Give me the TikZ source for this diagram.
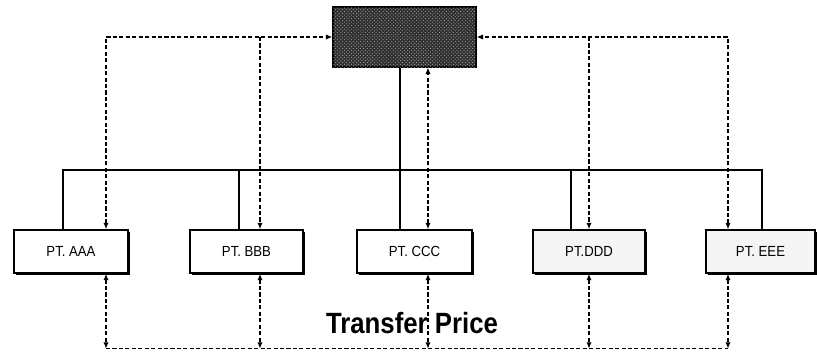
\documentclass[tikz,border=0pt]{standalone}
\usepackage{fontspec}
\setmainfont{Liberation Sans}
\usetikzlibrary{arrows.meta,calc,shadows,patterns}

\begin{document}
\begin{tikzpicture}[x=0.03cm, y=-0.03cm, >={Latex[length=5.5pt,width=4.5pt]},
  every node/.style={font=\fontsize{12.5}{14}\selectfont},
  unit/.style={draw, line width=1.2pt, fill=white, inner sep=0pt,
    minimum height=1.29cm,
    drop shadow={shadow xshift=1.6pt, shadow yshift=-1.6pt, fill=black, opacity=1}},
  link/.style={line width=1.3pt},
  flow/.style={line width=1pt, dash pattern=on 3.5pt off 2pt}]

  \useasboundingbox (0,0) rectangle (817,356);

  % =========================
  % head office
  % =========================
  \node[draw, line width=1pt, fill=black!82, minimum width=4.29cm,
        minimum height=1.8cm,
        postaction={pattern=crosshatch dots, pattern color=gray!70}] (hq) at (404.5,37) {};

  % =========================
  % subsidiaries
  % =========================
  \node[unit, minimum width=3.42cm]          (aaa) at (71,251.5)    {\scalebox{0.9}[1]{PT. AAA}};
  \node[unit, minimum width=3.39cm]          (bbb) at (246.5,251.5) {\scalebox{0.9}[1]{PT. BBB}};
  \node[unit, minimum width=3.45cm]          (ccc) at (414.5,251.5) {\scalebox{0.9}[1]{PT. CCC}};
  \node[unit, minimum width=3.36cm, fill=gray!8] (ddd) at (589,251.5)   {\scalebox{0.9}[1]{PT.DDD}};
  \node[unit, minimum width=3.27cm, fill=gray!8] (eee) at (760.5,251.5) {\scalebox{0.9}[1]{PT. EEE}};

  % tap points on each box
  \foreach \n/\dx/\sx in {aaa/35/-8, bbb/13.5/-7.5, ccc/13.5/-14.5, ddd/0/-18, eee/-32.5/1.5}{
    \coordinate (\n-in)  at ($(\n.north)+(\dx,0)$);
    \coordinate (\n-out) at ($(\n.south)+(\dx,0)$);
    \coordinate (\n-up)  at ($(\n.north)+(\sx,0)$);
  }
  \coordinate (bus)  at (0,170);
  \coordinate (base) at ($(ccc.south)+(0,75)$);

  % ownership lines
  \draw[link] (aaa-up) -- (aaa-up |- bus) -| (eee-up);
  \foreach \n in {bbb, ddd}{
    \draw[link] (\n-up) -- (\n-up |- bus);
  }
  \draw[link] (ccc-up |- hq.south) -- (ccc-up);

  % flows with the head office
  \draw[flow, <->] (aaa-in) |- (hq.west);
  \draw[flow, ->]  (bbb-in |- hq.west) -- (bbb-in);
  \draw[flow, <->] (ccc-in) -- (ccc-in |- hq.south);
  \draw[flow, ->]  (ddd-in |- hq.east) -- (ddd-in);
  \draw[flow, <->] (eee-in) |- (hq.east);

  % transfer price line
  \draw[flow] (aaa-out |- base) -- (eee-out |- base);
  \foreach \n in {aaa, bbb, ccc, ddd, eee}{
    \draw[flow, <->] (\n-out) -- (\n-out |- base);
  }

  \node[font=\bfseries\fontsize{25}{28}\selectfont] (tp) at (412,323.5)
    {\scalebox{0.88}[1]{Transfer Price}};

\end{tikzpicture}
\end{document}
